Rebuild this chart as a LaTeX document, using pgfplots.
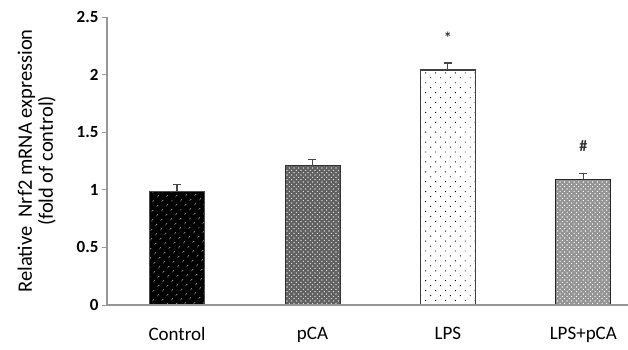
\documentclass[border=0pt]{standalone}
\usepackage{pgfplots}
\pgfplotsset{compat=1.18}
\usepackage{fontspec}
\setmainfont{Carlito}
\usetikzlibrary{patterns.meta}
\definecolor{axgray}{RGB}{150,150,150}
\definecolor{errgray}{RGB}{70,70,70}
\begin{document}
\begin{tikzpicture}
\begin{axis}[
  scale only axis, width=521pt, height=288pt,
  axis on top,
  xmin=-0.517, xmax=3.33,
  ymin=0, ymax=2.5,
  ytick={0,0.5,...,2.5},
  yticklabel style={font=\fontsize{17}{19}\selectfont\bfseries, /pgf/number format/assume math mode=true},
  xtick={0,1,2,3},
  xticklabels={Control,pCA,LPS,LPS+pCA},
  xticklabel style={font=\fontsize{19}{21}\selectfont, yshift=-14pt},
  major x tick style={draw=none},
  axis x line*=bottom, axis y line*=left,
  axis line style={axgray, line width=1.2pt, -},
  y tick style={axgray, line width=0.8pt},
  tick align=outside, major tick length=5pt,
  ylabel={Relative\ \ Nrf2 mRNA expression\\(fold of control)},
  ylabel style={font=\fontsize{20.5}{21}\selectfont, align=center, yshift=14pt},
  ybar, bar width=55pt, bar shift=0pt,
  error bars/y dir=plus, error bars/y explicit,
  error bars/error bar style={errgray, line width=1.2pt},
  error bars/error mark options={rotate=90, mark size=4pt, errgray, line width=1.2pt},
]
\coordinate (bl) at (rel axis cs:0,0);
\addplot[fill=black, draw=black!70, line width=0.8pt,
  postaction={pattern={Dots[distance=6.5pt, angle=45, radius=0.75pt]}, pattern color=white}]
  coordinates {(0,0.99) +- (0,0.055)};
\addplot[fill=black!62, draw=black!80, line width=0.8pt,
  postaction={pattern={Dots[distance=3.3pt, angle=45, radius=0.75pt]}, pattern color=black!15}]
  coordinates {(1,1.21) +- (0,0.055)};
\addplot[fill=white, draw=black!75, line width=1.4pt,
  postaction={pattern={Dots[distance=7pt, angle=45, radius=0.65pt]}, pattern color=black}]
  coordinates {(2,2.04) +- (0,0.06)};
\addplot[fill=black!42, draw=black!85, line width=0.8pt,
  postaction={pattern={Dots[distance=3.3pt, angle=45, radius=0.75pt]}, pattern color=white}]
  coordinates {(3,1.09) +- (0,0.05)};
\addplot[draw=none, fill=none, forget plot,
  nodes near coords, point meta=explicit symbolic,
  every node near coord/.style={font=\fontsize{16}{18}\selectfont\bfseries, text=black!80, anchor=center}]
  coordinates {(2,2.32) [*] (3,1.38) [\#]};
\end{axis}
\pgfresetboundingbox
\useasboundingbox ([shift={(-107pt,-45pt)}]bl) rectangle ([shift={(521pt,305pt)}]bl);
\end{tikzpicture}
\end{document}
